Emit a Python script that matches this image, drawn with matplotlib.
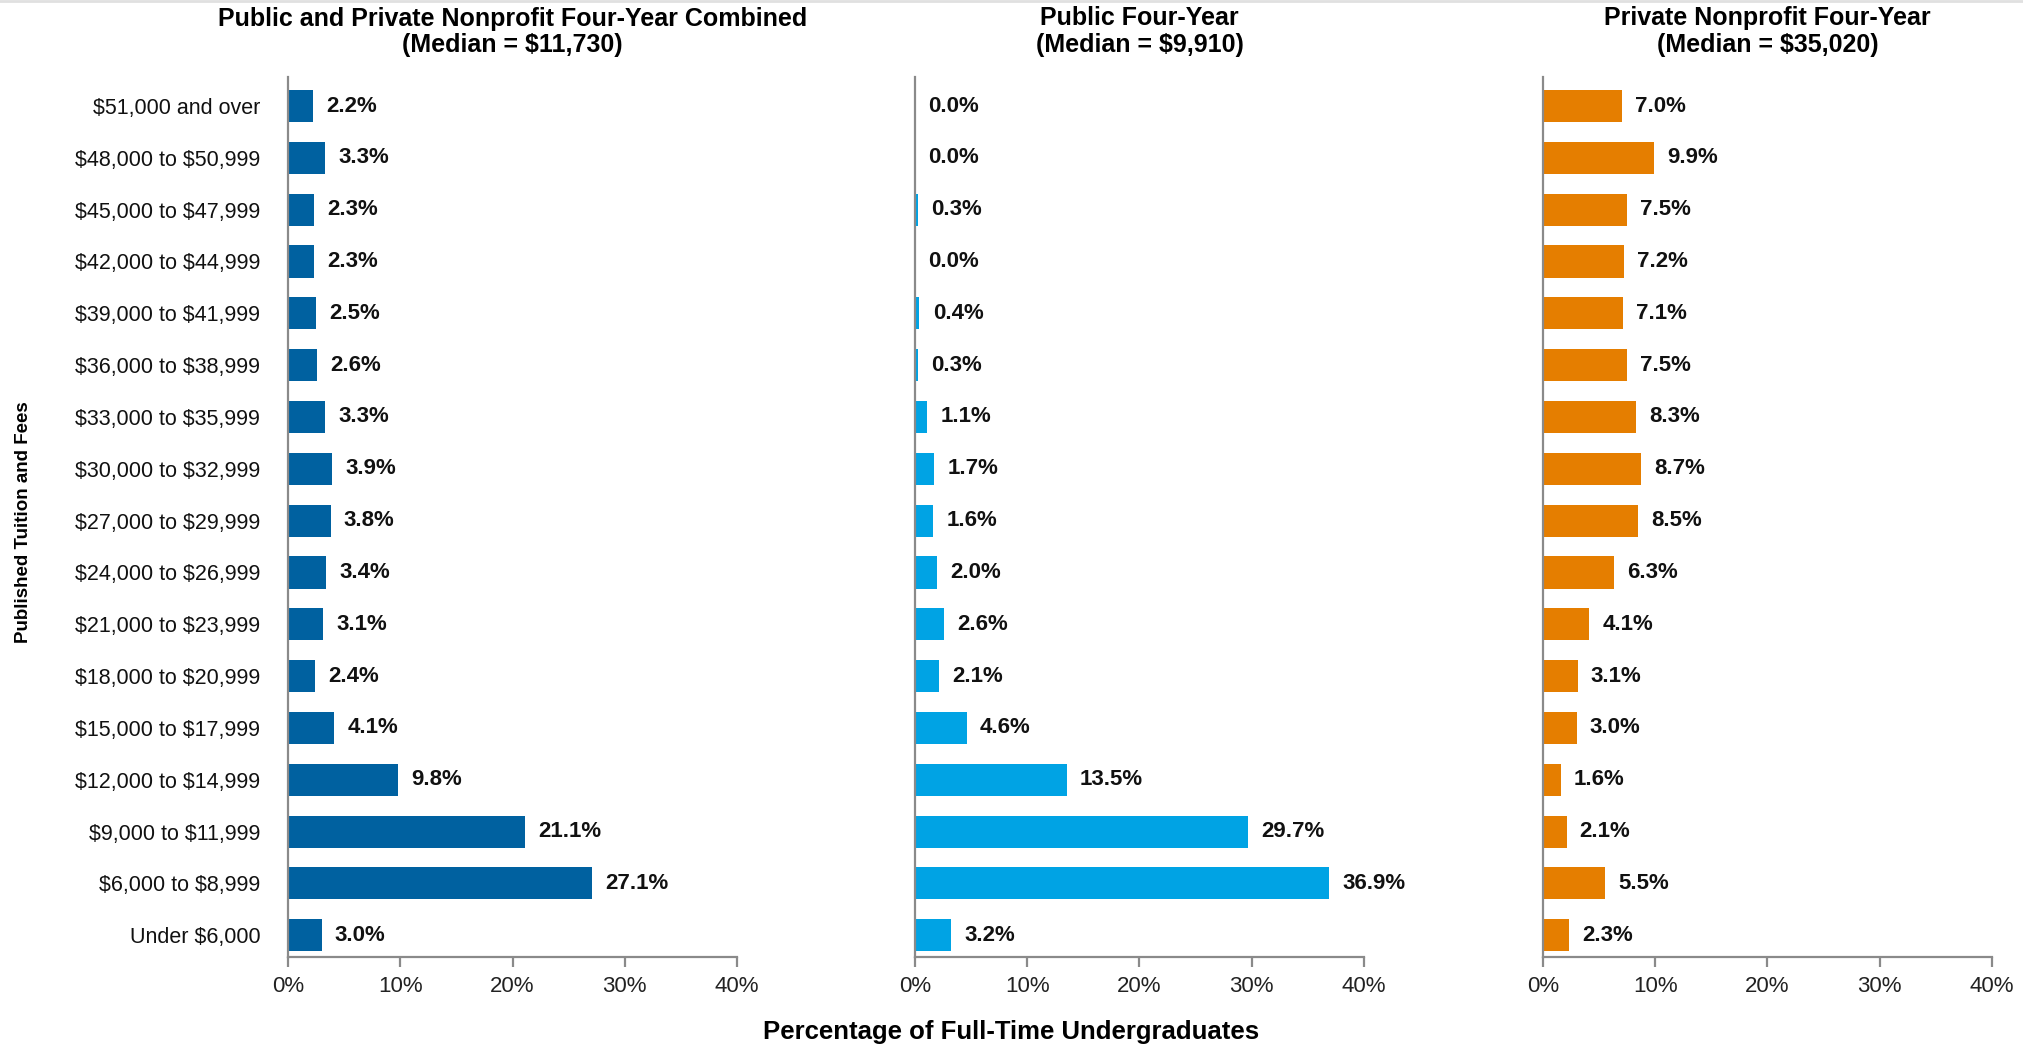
import matplotlib.pyplot as plt
from matplotlib.lines import Line2D

# tuition brackets, bottom to top
brackets = ["Under $6,000", "$6,000 to $8,999", "$9,000 to $11,999", "$12,000 to $14,999",
            "$15,000 to $17,999", "$18,000 to $20,999", "$21,000 to $23,999", "$24,000 to $26,999",
            "$27,000 to $29,999", "$30,000 to $32,999", "$33,000 to $35,999", "$36,000 to $38,999",
            "$39,000 to $41,999", "$42,000 to $44,999", "$45,000 to $47,999", "$48,000 to $50,999",
            "$51,000 and over"]

combined = [3.0, 27.1, 21.1, 9.8, 4.1, 2.4, 3.1, 3.4, 3.8, 3.9, 3.3, 2.6, 2.5, 2.3, 2.3, 3.3, 2.2]
public = [3.2, 36.9, 29.7, 13.5, 4.6, 2.1, 2.6, 2.0, 1.6, 1.7, 1.1, 0.3, 0.4, 0.0, 0.3, 0.0, 0.0]
private = [2.3, 5.5, 2.1, 1.6, 3.0, 3.1, 4.1, 6.3, 8.5, 8.7, 8.3, 7.5, 7.1, 7.2, 7.5, 9.9, 7.0]

titles = ["Public and Private Nonprofit Four-Year Combined\n(Median = $11,730)",
          "Public Four-Year\n(Median = $9,910)",
          "Private Nonprofit Four-Year\n(Median = $35,020)"]
colors = ["#0061a0", "#00a3e4", "#e57e00"]
xticks = [0, 10, 20, 30, 40]

plt.rcParams['font.family'] = ["Liberation Sans", "DejaVu Sans"]


def esc(s):
    # keep dollar signs literal
    return s.replace("$", r"\$")


fig = plt.figure(figsize=(20.23, 10.49), dpi=100)
lefts = [0.1424, 0.4523, 0.7627]
axes = [fig.add_axes([l, 0.0877, 0.2219, 0.8389]) for l in lefts]

y = list(range(len(brackets)))
for i, (ax, vals) in enumerate(zip(axes, [combined, public, private])):
    ax.barh(y, vals, height=0.62, color=colors[i], edgecolor="none")
    for yy, v in zip(y, vals):
        ax.annotate(f"{v:.1f}%", (v, yy), xytext=(9.5, 0), textcoords="offset points",
                    va="center", ha="left", fontsize=16, fontweight="bold",
                    color="#111111")
    ax.set_xlim(0, 40)
    ax.set_ylim(-0.42, len(brackets) - 1 + 0.56)
    ax.set_xticks(xticks)
    ax.set_xticklabels([f"{t}%" for t in xticks], fontsize=16, color="#222222")
    ax.spines["top"].set_visible(False)
    ax.spines["right"].set_visible(False)
    for s in ["left", "bottom"]:
        ax.spines[s].set_color("#8a8a8a")
        ax.spines[s].set_linewidth(1.6)
    ax.tick_params(axis="x", length=7, width=1.6, color="#8a8a8a", pad=7)
    ax.tick_params(axis="y", length=0)
    if i == 0:
        ax.set_yticks(y)
        ax.set_yticklabels([esc(b) for b in brackets], fontsize=15.5, color="#111111")
        ax.tick_params(axis="y", pad=20)
        ax.set_title(esc(titles[i]), fontsize=18, fontweight="bold", pad=18,
                     linespacing=1.1)
    else:
        ax.set_yticks([])
        ax.set_title(esc(titles[i]), fontsize=18, fontweight="bold", pad=18,
                     linespacing=1.15)

fig.text(0.5, 0.016, "Percentage of Full-Time Undergraduates", ha="center", va="center",
         fontsize=18.5, fontweight="bold")
fig.text(0.0115, 0.502, "Published Tuition and Fees", rotation=90, ha="center", va="center",
         fontsize=13.5, fontweight="bold")

# thin rule along the top edge
fig.add_artist(Line2D([0, 1], [0.999, 0.999], color="#e0e0e0", linewidth=2,
                      transform=fig.transFigure))

fig.savefig("out.png", dpi=100)
